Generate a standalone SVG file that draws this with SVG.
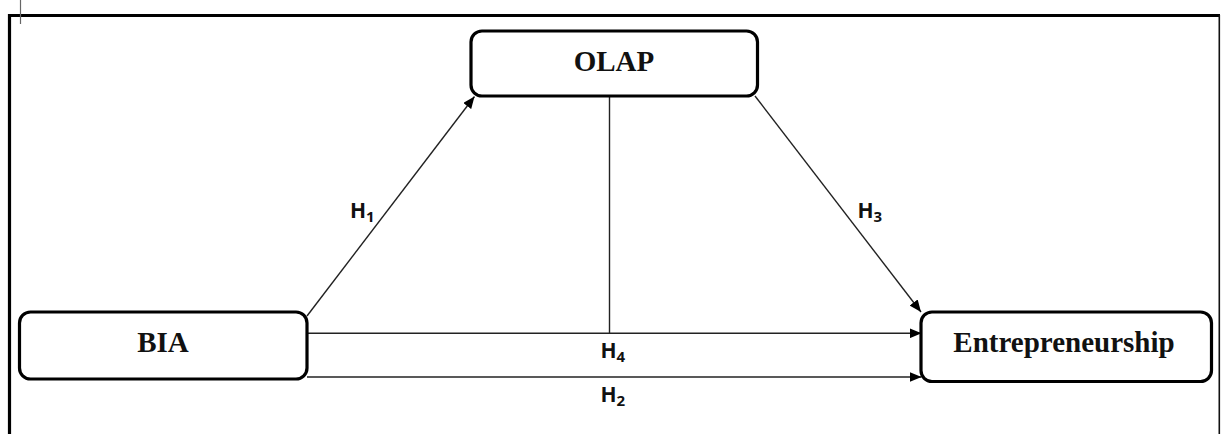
<svg xmlns="http://www.w3.org/2000/svg" width="1221" height="434" viewBox="0 0 1221 434">
<defs>
<marker id="arr" markerWidth="12" markerHeight="10" refX="12" refY="5" orient="auto" markerUnits="userSpaceOnUse">
<path d="M0,0 L12,5 L0,10 Z" fill="#000"/>
</marker>
<style>
.box{fill:#fff;stroke:#000;stroke-width:3.2}
.lbl{font-family:"Liberation Serif","Times New Roman",serif;font-weight:bold;font-size:29px;fill:#111;text-anchor:middle}
.h{font-family:"Open Sans","Liberation Sans",sans-serif;font-weight:bold;font-size:21px;fill:#111}
.sub{font-size:15px}
.c{stroke:#222;stroke-width:1.4;fill:none}
</style>
</defs>
<rect width="1221" height="434" fill="#fff"/>
<g id="frame">
<path d="M9.5,440 V15.5 H1220" fill="none" stroke="#000" stroke-width="3.2"/>
<line x1="1219.3" y1="15" x2="1219.3" y2="434" stroke="#111" stroke-width="1.6"/>
<line x1="20.5" y1="0" x2="20.5" y2="24" stroke="#666" stroke-width="1.2"/>
</g>
<g id="connectors">
<line class="c" x1="307" y1="316" x2="474.5" y2="96.5" marker-end="url(#arr)"/>
<line class="c" x1="755" y1="96" x2="921" y2="312" marker-end="url(#arr)"/>
<line class="c" x1="609.5" y1="97" x2="609.5" y2="333.3"/>
<line class="c" x1="307" y1="333.3" x2="921.5" y2="333.3" marker-end="url(#arr)"/>
<line class="c" x1="307" y1="377" x2="921.5" y2="377" marker-end="url(#arr)"/>
<text class="h" x="350" y="218">H<tspan class="sub" dy="4">1</tspan></text>
<text class="h" x="857.5" y="218">H<tspan class="sub" dy="4">3</tspan></text>
<text class="h" x="600.5" y="358">H<tspan class="sub" dy="4">4</tspan></text>
<text class="h" x="600.5" y="402">H<tspan class="sub" dy="4">2</tspan></text>
</g>
<g id="olap">
<rect class="box" x="471" y="31" width="286.5" height="65" rx="11"/>
<text class="lbl" x="614" y="71">OLAP</text>
</g>
<g id="bia">
<rect class="box" x="19.5" y="312" width="287.5" height="67" rx="11"/>
<text class="lbl" x="163" y="352">BIA</text>
</g>
<g id="entrepreneurship">
<rect class="box" x="921" y="312" width="290.5" height="69.5" rx="11"/>
<text class="lbl" x="1064" y="352">Entrepreneurship</text>
</g>
</svg>
